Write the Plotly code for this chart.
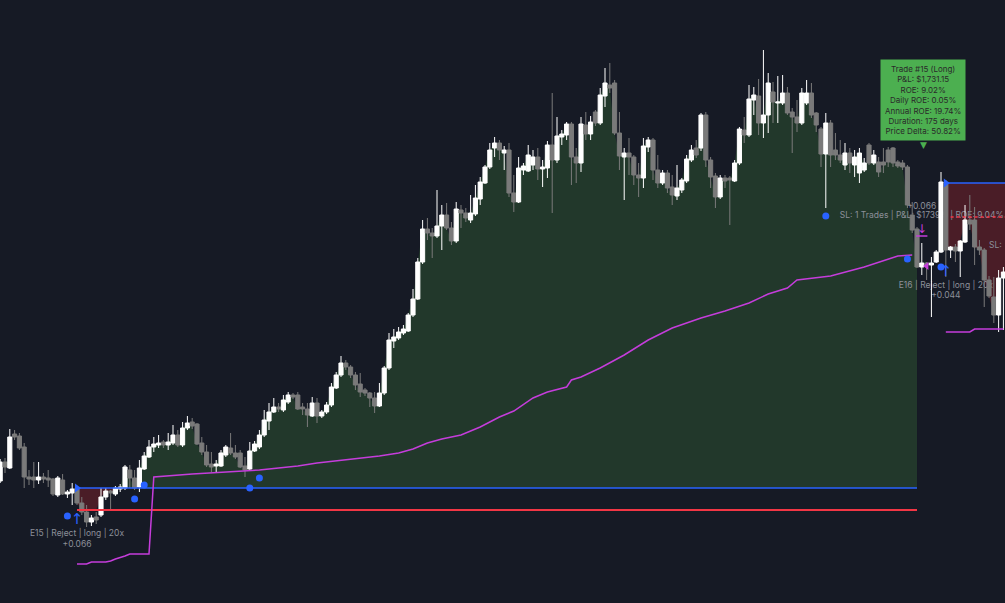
import plotly.graph_objects as go

# ---------------- data ----------------
bars = list(range(210))

open_ = [519,538,532,566,564,553,523,523,520,523,522,521,505,520,506,507,512,497,488,478,
         483,485,503,509,506,511,512,530,522,513,531,543,553,555,558,555,557,565,555,572,
         578,576,557,548,536,534,534,545,552,547,547,534,531,549,553,565,579,588,593,590,
         598,605,605,593,591,584,597,584,588,595,612,625,637,633,625,616,610,607,602,594,
         607,632,659,662,667,669,685,701,738,771,767,764,774,785,772,759,790,787,780,786,
         801,817,833,852,857,847,850,807,798,830,829,835,843,831,832,855,840,863,865,876,
         843,837,875,866,888,877,904,915,917,867,843,847,843,825,822,853,860,830,817,827,
         813,804,810,819,840,852,852,885,840,824,803,822,822,819,837,870,865,900,904,877,
         885,908,897,897,907,888,883,877,897,907,887,871,846,877,850,845,835,847,835,827,
         830,855,837,838,838,850,852,838,837,833,785,771,733,737,735,738,748,817,750,753,
         749,758,780,780,753,750,720,703,685,722]
high = [541,542,571,570,567,557,530,538,538,527,530,522,524,526,510,517,514,503,495,485,
        488,512,512,510,514,516,535,535,530,540,548,560,563,565,560,567,575,570,578,584,
        582,577,563,555,548,540,550,555,567,555,550,543,558,559,570,590,597,602,597,605,
        608,607,608,597,597,603,602,590,598,617,628,644,640,635,628,627,612,608,608,617,
        634,667,671,673,675,687,711,742,780,782,772,810,795,797,778,798,795,792,805,815,
        823,835,857,863,860,854,857,825,843,837,855,850,852,840,859,907,883,870,878,878,
        852,883,888,884,890,912,932,937,920,888,852,862,845,837,862,863,862,845,830,830,
        825,835,822,845,855,860,887,888,843,827,825,825,824,840,873,883,915,913,921,950,
        927,918,924,925,913,892,900,912,920,917,888,873,887,880,867,860,857,852,850,852,
        842,857,850,843,852,853,853,840,840,835,798,773,757,738,743,750,828,820,754,756,
        760,795,805,793,760,752,724,723,730,733]
low = [517,527,531,560,550,512,515,512,516,517,513,504,503,505,502,495,495,485,473,474,
       476,483,500,491,504,508,510,512,510,508,530,542,548,552,552,550,555,553,553,570,
       571,555,545,533,528,527,533,543,545,541,532,523,530,548,551,563,570,587,588,588,
       596,601,590,585,573,583,577,582,586,593,611,623,630,622,610,603,604,593,587,593,
       605,630,652,660,665,668,683,700,736,760,742,762,750,770,755,757,772,778,777,784,
       795,816,831,843,840,830,803,788,797,825,828,830,820,813,822,787,837,855,860,815,
       817,828,860,860,874,875,893,907,865,830,800,825,815,803,812,848,820,812,815,807,
       795,800,807,817,838,842,849,833,812,792,801,812,775,818,835,857,863,885,865,862,
       867,877,877,895,885,847,868,875,895,882,868,833,792,833,840,837,830,827,823,817,
       828,835,835,823,827,833,833,832,830,792,767,732,725,720,683,737,747,723,742,738,
       723,757,770,735,745,693,702,677,668,670]
close = [538,533,563,563,552,523,521,520,523,521,520,506,522,506,508,511,497,488,478,482,
         480,503,509,507,512,513,533,522,512,532,544,553,556,557,555,558,565,555,572,577,
         574,556,548,535,533,536,547,553,547,543,533,530,549,556,565,580,588,593,591,600,
         605,603,591,591,585,597,584,588,595,613,625,637,633,625,615,608,607,602,594,607,
         632,660,663,668,671,685,701,738,771,767,764,774,785,772,759,791,787,782,787,802,
         818,833,850,857,850,850,807,798,832,834,845,843,831,833,855,840,864,866,876,843,
         837,876,866,878,877,905,917,912,867,844,847,843,825,822,854,860,830,817,827,812,
         805,812,820,841,850,845,885,840,823,803,822,819,820,837,871,865,901,905,877,885,
         917,898,898,907,887,883,877,907,907,885,875,846,877,845,845,840,847,837,843,847,
         837,837,845,828,835,838,837,834,833,795,770,733,737,735,737,748,818,750,753,749,
         759,780,776,753,750,720,704,685,722,728]

# trade levels
ENTRY15, SL15 = 512, 490
ENTRY16 = 817
T15_START, T15_END = 16, 191
T16_START = 197

# trailing (magenta) line readings
trail15_idx = [16, 18, 19, 22, 23, 24, 26, 27, 31, 32, 40, 48, 54, 58, 62, 66, 70, 75, 79, 83,
               86, 89, 92, 96, 100, 104, 107, 111, 114, 118, 119, 121, 125, 130, 135, 140,
               146, 151, 156, 160, 164, 166, 173, 180, 187, 190]
trail15_val = [436, 436, 438, 438, 439, 441, 444, 446, 446, 523, 526, 528, 530, 532, 534, 537,
               539, 542, 544, 547, 551, 557, 561, 565, 573, 583, 589, 602, 608, 613, 620, 623,
               632, 645, 660, 672, 682, 689, 697, 706, 712, 720, 724, 733, 744, 745]
trail16_idx = [197, 202, 203, 209]
trail16_val = [668, 668, 671, 671]

# signal dots
signal_idx = [14, 28, 30, 52, 54, 172, 189, 196]
signal_val = [484, 501, 515, 512, 522, 784, 741, 733]

# ---------------- styling ----------------
BG = '#161a25'
GREEN_FILL = '#22382b'
RED_FILL = '#4a1d27'
BLUE = '#2962ff'
RED = '#f23645'
MAGENTA = '#c53ddb'
GRAY_C = '#7a7a7a'
TXT = '#8c8f99'
FONT = 'Inter'

fig = go.Figure()

# ----- layer 1: fills + labels (under candles) -----
seg15 = bars[T15_START:T15_END + 1]
cl15 = close[T15_START:T15_END + 1]
green_top = [max(c, ENTRY15) for c in cl15]
red_bot = [max(min(c, ENTRY15), SL15) for c in cl15]

fig.add_trace(go.Scatter(x=seg15, y=[ENTRY15] * len(seg15), mode='lines',
                         line=dict(width=0), hoverinfo='skip', showlegend=False))
fig.add_trace(go.Scatter(x=seg15, y=green_top, mode='lines', fill='tonexty',
                         fillcolor=GREEN_FILL, line=dict(width=0), hoverinfo='skip', showlegend=False))
fig.add_trace(go.Scatter(x=seg15, y=[ENTRY15] * len(seg15), mode='lines',
                         line=dict(width=0), hoverinfo='skip', showlegend=False))
fig.add_trace(go.Scatter(x=seg15, y=red_bot, mode='lines', fill='tonexty',
                         fillcolor=RED_FILL, line=dict(width=0), hoverinfo='skip', showlegend=False))

seg16 = bars[T16_START:]
cl16 = close[T16_START:]
red16 = [min(c, ENTRY16) for c in cl16]
fig.add_trace(go.Scatter(x=seg16 + [bars[-1] + 1], y=[ENTRY16] * (len(seg16) + 1), mode='lines',
                         line=dict(width=0), hoverinfo='skip', showlegend=False))
fig.add_trace(go.Scatter(x=seg16 + [bars[-1] + 1], y=red16 + [red16[-1]], mode='lines', fill='tonexty',
                         fillcolor=RED_FILL, line=dict(width=0), hoverinfo='skip', showlegend=False))

# labels
lab_x = [T15_START, T15_START, T16_START, T16_START, 192, 192]
lab_y = [466, 455, 714, 704, 793, 784]
lab_t = ['E15 | Reject | long | 20x', '+0.066', 'E16 | Reject | long | 20x', '+0.044',
         '+0.066', 'SL: 1 Trades | P&L: $1739.9 | ROE: 9.04%']
fig.add_trace(go.Scatter(x=lab_x, y=lab_y, text=lab_t, mode='text',
                         textfont=dict(family=FONT, size=8.5, color=TXT),
                         textposition='middle center', hoverinfo='skip', showlegend=False))
fig.add_trace(go.Scatter(x=[206], y=[754], text=['SL:'], mode='text',
                         textfont=dict(family=FONT, size=8.5, color=TXT),
                         textposition='middle right', hoverinfo='skip', showlegend=False))

# ----- layer 2: candles -----
fig.add_trace(go.Candlestick(x=bars, open=open_, high=high, low=low, close=close,
                             increasing=dict(line=dict(color='#ffffff', width=1), fillcolor='#ffffff'),
                             decreasing=dict(line=dict(color=GRAY_C, width=1), fillcolor=GRAY_C),
                             whiskerwidth=0, xaxis='x2', yaxis='y2', hoverinfo='skip', showlegend=False))

# ----- layer 3: levels, trailing line, markers -----
L3 = dict(xaxis='x3', yaxis='y3', hoverinfo='skip', showlegend=False)
fig.add_trace(go.Scatter(x=[T15_START, T15_END], y=[ENTRY15, ENTRY15], mode='lines',
                         line=dict(color=BLUE, width=1.5), **L3))
fig.add_trace(go.Scatter(x=[T15_START, T15_END], y=[SL15, SL15], mode='lines',
                         line=dict(color=RED, width=2), **L3))
fig.add_trace(go.Scatter(x=[T16_START, bars[-1] + 1], y=[ENTRY16, ENTRY16], mode='lines',
                         line=dict(color=BLUE, width=1.5), **L3))
fig.add_trace(go.Scatter(x=[T16_START + 1, bars[-1] + 1], y=[783, 783], mode='lines',
                         line=dict(color=RED, width=1.5, dash='dot'), **L3))
fig.add_trace(go.Scatter(x=trail15_idx, y=trail15_val, mode='lines',
                         line=dict(color=MAGENTA, width=1.5), **L3))
fig.add_trace(go.Scatter(x=trail16_idx, y=trail16_val, mode='lines',
                         line=dict(color=MAGENTA, width=1.5), **L3))
fig.add_trace(go.Scatter(x=[T15_START, T16_START], y=[ENTRY15, ENTRY16], mode='markers',
                         marker=dict(symbol='triangle-right', size=8, color=BLUE), **L3))
fig.add_trace(go.Scatter(x=signal_idx, y=signal_val, mode='markers',
                         marker=dict(symbol='circle', size=7, color=BLUE), **L3))
fig.add_trace(go.Scatter(x=[T15_START, T16_START], y=[480, 728], mode='text', text=['↑', '↑'],
                         textfont=dict(family='DejaVu Sans', size=15, color=BLUE), **L3))
# exit marker: down arrow with bar
fig.add_trace(go.Scatter(x=[192], y=[770], mode='text', text=['↓'],
                         textfont=dict(family='DejaVu Sans', size=12, color=MAGENTA), **L3))
fig.add_trace(go.Scatter(x=[192], y=[764], mode='markers',
                         marker=dict(symbol='line-ew', size=8, color=MAGENTA,
                                     line=dict(color=MAGENTA, width=1.5)), **L3))
fig.add_trace(go.Scatter(x=[193], y=[734], mode='markers',
                         marker=dict(symbol='triangle-left', size=7, color=MAGENTA), **L3))

# tooltip
tip = ('Trade #15 (Long)<br>P&L: $1,731.15<br>ROE: 9.02%<br>Daily ROE: 0.05%<br>'
       'Annual ROE: 19.74%<br>Duration: 175 days<br>Price Delta: 50.82%')

xr = [-0.0417, 209.33]
yr = [397, 1000]
ax = dict(visible=False, showgrid=False, zeroline=False, fixedrange=True)
fig.update_layout(
    width=1005, height=603, autosize=False,
    margin=dict(l=0, r=0, t=0, b=0),
    paper_bgcolor=BG, plot_bgcolor=BG,
    boxgap=0.14, boxgroupgap=0,
    xaxis=dict(range=xr, rangeslider=dict(visible=False), **ax),
    yaxis=dict(range=yr, **ax),
    xaxis2=dict(range=xr, overlaying='x', rangeslider=dict(visible=False), **ax),
    yaxis2=dict(range=yr, overlaying='y', **ax),
    xaxis3=dict(range=xr, overlaying='x', **ax),
    yaxis3=dict(range=yr, overlaying='y', **ax),
    annotations=[
        dict(x=T15_END, y=859, xref='x', yref='y', text=tip, showarrow=False,
             xanchor='center', yanchor='bottom', xshift=6, align='center',
             bgcolor='#4caf50', borderpad=4,
             font=dict(family=FONT, size=8, color='#2a2a2a')),
        dict(x=T15_END, y=859, xref='x', yref='y', text='▼', showarrow=False,
             xanchor='center', yanchor='top', xshift=6, yshift=3,
             font=dict(family='DejaVu Sans', size=9, color='#4caf50')),
    ],
    showlegend=False,
)

fig.write_html("out.html")
